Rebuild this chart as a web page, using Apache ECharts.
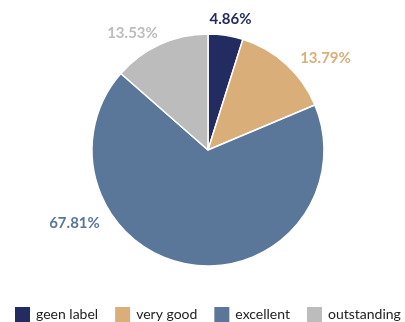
<!DOCTYPE html>
<html>
<head>
<meta charset="utf-8">
<script src="https://cdn.jsdelivr.net/npm/echarts@6/dist/echarts.min.js"></script>
<style>html,body{margin:0;padding:0;background:#fff}#c{width:405px;height:322px}</style>
</head>
<body>
<div id="c"></div>
<script>
const categories = ['geen label', 'very good', 'excellent', 'outstanding'];
const values = [4.86, 13.79, 67.81, 13.53];
const colors = ['#232c61', '#d9ae79', '#5a7699', '#bcbcbc'];
// label placement (offset of label centre from pie centre, px), per category
const labelOffsets = [[22.5, -130.5], [117.5, -91.5], [-133.5, 73.5], [-75.5, -117]];
const center = [208, 150];
const radius = 116;
const fmt = v => v.toFixed(2) + '%';

const chart = echarts.init(document.getElementById('c'), null, {renderer: 'canvas'});
chart.setOption({
  animation: false,
  color: colors,
  legend: {
    data: categories,
    left: 13,
    top: 305,
    width: 392,
    padding: 0,
    icon: 'rect',
    itemWidth: 17,
    itemHeight: 17,
    itemGap: 15,
    textStyle: {fontFamily: 'Lato', fontSize: 14, color: '#222'}
  },
  series: [{
    type: 'pie',
    center: center,
    radius: radius,
    startAngle: 90,
    clockwise: true,
    avoidLabelOverlap: false,
    itemStyle: {borderColor: '#fff', borderWidth: 1.5},
    label: {
      show: true,
      position: 'outside',
      formatter: p => fmt(p.value),
      fontFamily: 'Lato',
      fontWeight: 'bold',
      fontSize: 15
    },
    labelLine: {show: false},
    labelLayout: function (params) {
      let i = values.findIndex(v => fmt(v) === params.text);
      if (i < 0) i = params.dataIndex;
      const o = labelOffsets[i];
      return {x: center[0] + o[0], y: center[1] + o[1], align: 'center', verticalAlign: 'middle'};
    },
    data: categories.map((n, i) => ({name: n, value: values[i], label: {color: colors[i]}}))
  }]
});
</script>
</body>
</html>
